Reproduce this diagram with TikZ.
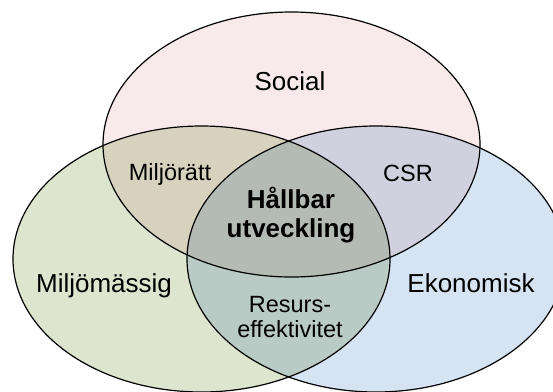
\documentclass[tikz,border=0pt]{standalone}
\usepackage{fontspec}
\setmainfont{Liberation Sans}
\usetikzlibrary{positioning}

\definecolor{socialfill}{RGB}{248,234,234}
\definecolor{miljofill}{RGB}{222,229,207}
\definecolor{ekonfill}{RGB}{214,227,243}

\tikzset{
  ring/.style={draw=black, line width=1.2pt},
  biglabel/.style={font=\fontsize{26}{29}\selectfont, inner sep=0pt, anchor=base},
  smalllabel/.style={font=\fontsize{23.5}{24.5}\selectfont, inner sep=0pt, anchor=base, align=center},
}

\begin{document}
\begin{tikzpicture}[x=1pt, y=-1pt]
  \useasboundingbox (0,0) rectangle (553,391);

  \coordinate (S) at (291.5,144.5);
  \coordinate (M) at (201.5,259);
  \coordinate (E) at (376,259);

  % fills, blended
  \begin{scope}[blend group=multiply]
    \fill[socialfill] (S) ellipse [x radius=188.5, y radius=132.5];
    \fill[miljofill]  (M) ellipse [x radius=188.5, y radius=133];
    \fill[ekonfill]   (E) ellipse [x radius=189, y radius=133];
  \end{scope}

  % outlines
  \draw[ring] (S) ellipse [x radius=188.5, y radius=132.5];
  \draw[ring] (M) ellipse [x radius=188.5, y radius=133];
  \draw[ring] (E) ellipse [x radius=189, y radius=133];

  \node[biglabel] (social) at (290,90.7) {Social};
  \node[biglabel] (miljo)  at (104,292)  {Miljömässig};
  \node[biglabel] (ekon)   at (471,292)  {Ekonomisk};

  \node[smalllabel] (miljoratt) at (170,180)   {Miljörätt};
  \node[smalllabel] (csr)       at (408,181.7) {CSR};
  % base anchor sits on the last line
  \node[smalllabel] (resurs)    at (290,337)   {Resurs-\\effektivitet};

  \node[biglabel, align=center, font=\fontsize{26}{29}\selectfont\bfseries] (hallbar) at (291,237) {Hållbar\\utveckling};
\end{tikzpicture}
\end{document}
